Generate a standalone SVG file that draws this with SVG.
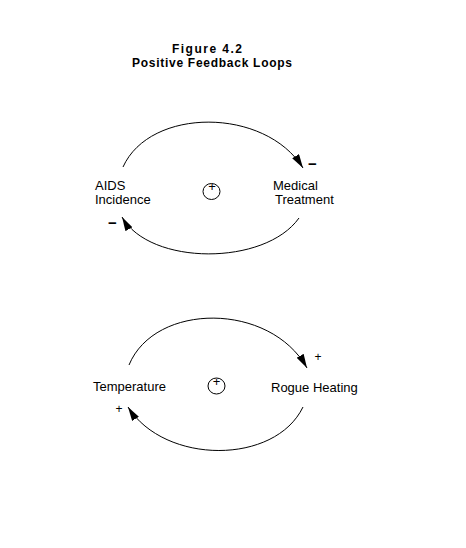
<svg xmlns="http://www.w3.org/2000/svg" width="466" height="548" viewBox="0 0 466 548">
<style>
.lbl{font-family:"Liberation Sans",Arial,sans-serif;font-size:13px;fill:#000}
.ttl{font-family:"Liberation Sans",Arial,sans-serif;font-size:12px;font-weight:bold;fill:#000}
.link{fill:none;stroke:#000;stroke-width:1}
.pol{font-family:"Liberation Sans",Arial,sans-serif;font-size:12px;fill:#000}
.neg{font-family:"Liberation Sans",Arial,sans-serif;font-size:15px;font-weight:bold;fill:#000}
.loop{fill:none;stroke:#000;stroke-width:1}
</style>
<defs>
<marker id="ah" markerUnits="userSpaceOnUse" markerWidth="16" markerHeight="10" refX="14" refY="4" orient="auto">
<path d="M0,0 L14,4 L0,8 z" fill="#000"/>
</marker>
</defs>
<rect width="466" height="548" fill="#fff"/>
<g id="title">
<text class="ttl" x="207" y="53" text-anchor="middle" textLength="70">Figure 4.2</text>
<text class="ttl" x="212" y="66.5" text-anchor="middle" textLength="160">Positive Feedback Loops</text>
</g>
<g id="aids-incidence">
<text class="lbl" x="95" y="190">AIDS</text>
<text class="lbl" x="95" y="204">Incidence</text>
</g>
<g id="medical-treatment">
<text class="lbl" x="273" y="190">Medical</text>
<text class="lbl" x="275" y="204">Treatment</text>
</g>
<g id="loop1">
<ellipse class="loop" cx="211.5" cy="191.5" rx="8.5" ry="8"/>
<text class="lbl" x="212" y="191" text-anchor="middle">+</text>
</g>
<g id="temperature">
<text class="lbl" x="93" y="391">Temperature</text>
</g>
<g id="rogue-heating">
<text class="lbl" x="271" y="392">Rogue Heating</text>
</g>
<g id="loop2">
<ellipse class="loop" cx="216.5" cy="386" rx="8.5" ry="8"/>
<text class="lbl" x="216.5" y="386" text-anchor="middle">+</text>
</g>
<g id="connectors">
<path class="link" d="M123,167 C150,107 265,107 303,168" marker-end="url(#ah)"/>
<path class="link" d="M299,218 C265,266 150,266 122,217" marker-end="url(#ah)"/>
<path class="link" d="M129,365 C155,302 270,302 307,368" marker-end="url(#ah)"/>
<path class="link" d="M303,407 C275,465 165,465 128,407" marker-end="url(#ah)"/>
<text class="neg" x="312.5" y="169" text-anchor="middle">−</text>
<text class="neg" x="112.5" y="228" text-anchor="middle">−</text>
<text class="pol" x="318" y="361" text-anchor="middle">+</text>
<text class="pol" x="119" y="413" text-anchor="middle">+</text>
</g>
</svg>
